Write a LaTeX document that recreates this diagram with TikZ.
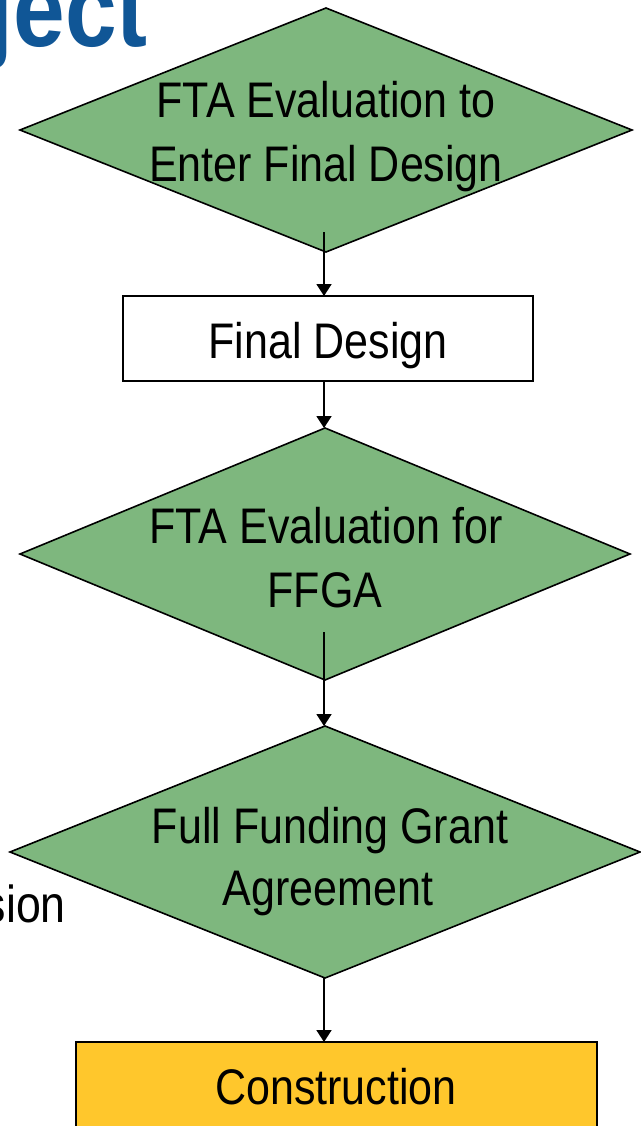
\documentclass[tikz,border=0pt]{standalone}
\usepackage{fontspec}
\setmainfont{Liberation Sans}
\newfontfamily\narrowfont[FakeStretch=0.86]{Liberation Sans}
\usetikzlibrary{shapes.geometric,arrows.meta}
\definecolor{dgreen}{RGB}{126,183,126}
\definecolor{cyellow}{RGB}{255,199,44}
\definecolor{titleblue}{RGB}{16,86,150}
\tikzset{
  decision/.style={shape=diamond, draw=black, line width=1.6pt, fill=dgreen, inner sep=0pt, outer sep=0pt},
  stepbox/.style={rectangle, draw=black, line width=1.6pt, inner sep=0pt, outer sep=0pt},
  lbl/.style={anchor=base, inner sep=0pt, font=\narrowfont\fontsize{50}{60}\selectfont},
  arr/.style={line width=1.8pt, -{Triangle[length=12pt,width=15pt]}},
}
\begin{document}
\begin{tikzpicture}[x=1pt,y=-1pt]
\useasboundingbox (0,0) rectangle (640,1126);
\fill[white] (0,0) rectangle (640,1126);
% background slide text
\node[anchor=base east, inner sep=0pt, text=titleblue, font=\bfseries\narrowfont\fontsize{108}{120}\selectfont] (title) at (148,47) {ject};
\node[anchor=base east, inner sep=0pt, font=\narrowfont\fontsize{52}{60}\selectfont] (sion) at (66,922) {sion};
% shapes
\node[decision, minimum width=612pt, minimum height=244pt] (d1) at (326,130) {};
\node[stepbox, minimum width=410pt, minimum height=85pt] (fd) at (328,338.5) {};
\node[decision, minimum width=610pt, minimum height=252pt] (d2) at (325,554) {};
\node[decision, minimum width=630pt, minimum height=252pt] (d3) at (325,852) {};
\node[stepbox, fill=cyellow, minimum width=521pt, minimum height=100pt] (cons) at (336.5,1092) {};
% labels
\node[lbl] (t1a) at (326,118) {FTA Evaluation to};
\node[lbl] (t1b) at (326,182) {Enter Final Design};
\node[lbl] (t2) at (328,358) {Final Design};
\node[lbl] (t3a) at (326,543) {FTA Evaluation for};
\node[lbl] (t3b) at (325,607) {FFGA};
\node[lbl] (t4a) at (330,843) {Full Funding Grant};
\node[lbl] (t4b) at (328,905) {Agreement};
\node[lbl] (t5) at (336,1104) {Construction};
% connectors
\coordinate (c1) at (324,232);
\coordinate (c2) at (324,632);
\draw[arr] (c1) -- (c1 |- fd.north);
\draw[arr] (c1 |- fd.south) -- (c1 |- d2.north);
\draw[arr] (c2) -- (c2 |- d3.north);
\draw[arr] (c2 |- d3.south) -- (c2 |- cons.north);
\end{tikzpicture}
\end{document}
